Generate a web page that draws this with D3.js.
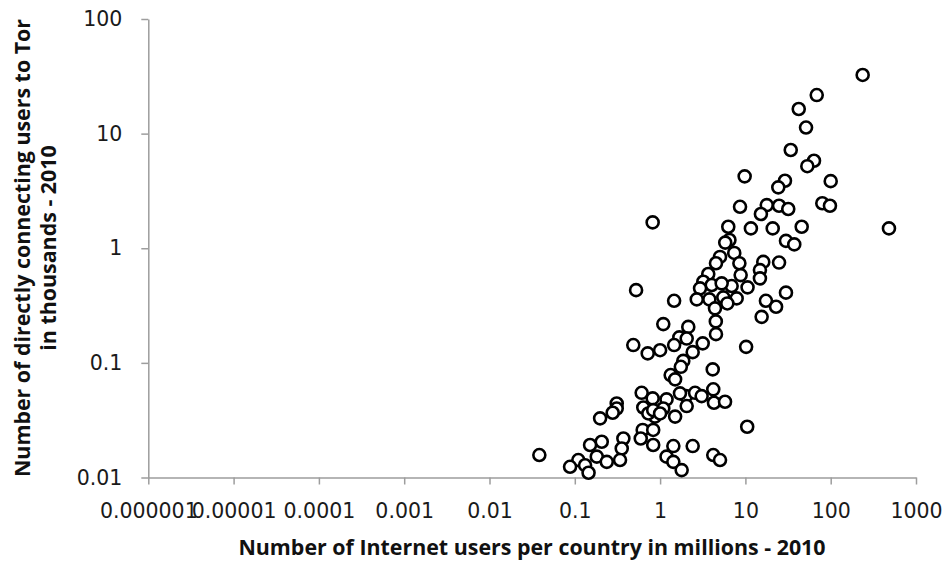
<!DOCTYPE html>
<html>
<head>
<meta charset="utf-8">
<script src="https://cdn.jsdelivr.net/npm/d3@7"></script>
<style>
  html, body { margin: 0; padding: 0; background: #ffffff; }
  svg { display: block; }
</style>
</head>
<body>
<div id="chart"></div>
<script>
// Internet users per country (millions) vs. directly connecting Tor users (thousands), 2010
const internetUsers = [
  237, 68.6, 42.2, 51.4, 34, 63.7, 53.2, 100, 9.8, 29.1,
  24.3, 79.7, 98, 8.65, 17.8, 15.2, 24.8, 31.8, 482, 6.3,
  11.6, 20.9, 45.7, 6.5, 5.8, 29.9, 37.4, 7.4, 5.04, 4.52,
  8.5, 16.2, 24.8, 14.8, 8.8, 14.8, 10.6, 6.9, 29.9, 17.4,
  22.9, 15.5, 3.67, 3.21, 4.03, 5.27, 2.94, 2.69, 3.78, 5.51,
  7.9, 6.14, 4.4, 4.5, 4.52, 0.818, 0.523, 1.46, 1.09, 2.14,
  1.68, 2.05, 1.46, 3.16, 0.485, 0.716, 1.0, 2.41, 1.87, 1.75,
  1.33, 1.5, 4.14, 10.2, 0.608, 0.818, 1.19, 2.01, 2.57, 3.07,
  4.2, 4.28, 5.77, 2.05, 1.09, 0.87, 0.635, 0.728, 0.31, 0.31,
  0.278, 0.198, 0.625, 0.83, 0.83, 0.371, 0.355, 0.339, 0.593, 0.207,
  0.151, 0.181, 0.237, 0.11, 0.088, 0.132, 0.145, 0.0384, 1.19, 1.43,
  1.79, 1.43, 2.41, 4.2, 5.04, 1.5, 1.71, 10.5, 0.83, 1.0
];
const torUsers = [
  32.5, 21.7, 16.4, 11.3, 7.2, 5.8, 5.2, 3.85, 4.24, 3.88,
  3.4, 2.47, 2.35, 2.3, 2.38, 1.99, 2.35, 2.2, 1.49, 1.54,
  1.49, 1.49, 1.54, 1.18, 1.12, 1.16, 1.08, 0.91, 0.84, 0.74,
  0.74, 0.76, 0.75, 0.645, 0.583, 0.546, 0.456, 0.468, 0.41, 0.348,
  0.309, 0.252, 0.596, 0.51, 0.478, 0.494, 0.447, 0.358, 0.358, 0.373,
  0.365, 0.33, 0.299, 0.23, 0.178, 1.68, 0.431, 0.348, 0.218, 0.206,
  0.167, 0.163, 0.143, 0.148, 0.143, 0.121, 0.129, 0.124, 0.104, 0.0924,
  0.0783, 0.0718, 0.0877, 0.138, 0.0548, 0.049, 0.048, 0.0513, 0.0548, 0.0513,
  0.0588, 0.0449, 0.0458, 0.042, 0.04, 0.034, 0.0408, 0.0362, 0.0442, 0.04,
  0.0367, 0.0328, 0.026, 0.026, 0.0192, 0.0219, 0.0179, 0.0142, 0.0219, 0.0205,
  0.0192, 0.0152, 0.0137, 0.0142, 0.0124, 0.0128, 0.011, 0.0157, 0.0152, 0.0137,
  0.0116, 0.0188, 0.0188, 0.0157, 0.0142, 0.034, 0.0542, 0.0277, 0.0387, 0.0362
];

const xTicks = [0.000001, 0.00001, 0.0001, 0.001, 0.01, 0.1, 1, 10, 100, 1000];
const xTickLabels = ["0.000001", "0.00001", "0.0001", "0.001", "0.01", "0.1", "1", "10", "100", "1000"];
const yTicks = [0.01, 0.1, 1, 10, 100];
const yTickLabels = ["0.01", "0.1", "1", "10", "100"];

const xTitle = "Number of Internet users per country in millions - 2010";
const yTitleLines = ["Number of  directly connecting users to Tor", "in thousands - 2010"];

const width = 945, height = 561;
const plot = { left: 148.3, right: 916, top: 19, bottom: 477.5 };

const svg = d3.select("#chart").append("svg")
  .attr("width", width)
  .attr("height", height);

const x = d3.scaleLog().domain([0.000001, 1000]).range([plot.left, plot.right]);
const y = d3.scaleLog().domain([0.01, 100]).range([plot.bottom, plot.top]);

const axisColor = "#9d9d9d";
const tickFont = "'DejaVu Sans', sans-serif";
const titleFont = "'Open Sans', Lato, sans-serif";

// x axis
const gx = svg.append("g")
  .attr("transform", `translate(0,${plot.bottom})`)
  .call(d3.axisBottom(x)
    .tickValues(xTicks)
    .tickFormat((d, i) => xTickLabels[i])
    .tickSize(7)
    .tickSizeOuter(0)
    .tickPadding(19));

// y axis
const gy = svg.append("g")
  .attr("transform", `translate(${plot.left},0)`)
  .call(d3.axisLeft(y)
    .tickValues(yTicks)
    .tickFormat((d, i) => yTickLabels[i])
    .tickSize(7)
    .tickSizeOuter(0)
    .tickPadding(19));

[gx, gy].forEach(g => {
  g.select(".domain").attr("stroke", axisColor).attr("stroke-width", 1.5);
  g.selectAll(".tick line").attr("stroke", axisColor).attr("stroke-width", 1.5);
  g.selectAll(".tick text")
    .attr("fill", "#1a1a1a")
    .style("font-family", tickFont)
    .style("font-size", "20.5px");
});

// markers: open circles with white fill
svg.append("g")
  .selectAll("circle")
  .data(internetUsers.map((v, i) => [v, torUsers[i]]))
  .join("circle")
  .attr("cx", d => x(d[0]))
  .attr("cy", d => y(d[1]))
  .attr("r", 6)
  .attr("fill", "#ffffff")
  .attr("stroke", "#000000")
  .attr("stroke-width", 2.6);

// x axis title
svg.append("text")
  .attr("x", 532)
  .attr("y", 555)
  .attr("text-anchor", "middle")
  .style("font-family", titleFont)
  .style("font-weight", "bold")
  .style("font-size", "21.4px")
  .attr("fill", "#111")
  .text(xTitle);

// y axis title (two lines)
const yTitleX = [30, 56];
yTitleLines.forEach((line, i) => {
  svg.append("text")
    .attr("transform", `translate(${yTitleX[i]},248) rotate(-90)`)
    .attr("text-anchor", "middle")
    .style("font-family", titleFont)
    .style("font-weight", "bold")
    .style("font-size", "21.4px")
    .attr("fill", "#111")
    .text(line);
});
</script>
</body>
</html>
